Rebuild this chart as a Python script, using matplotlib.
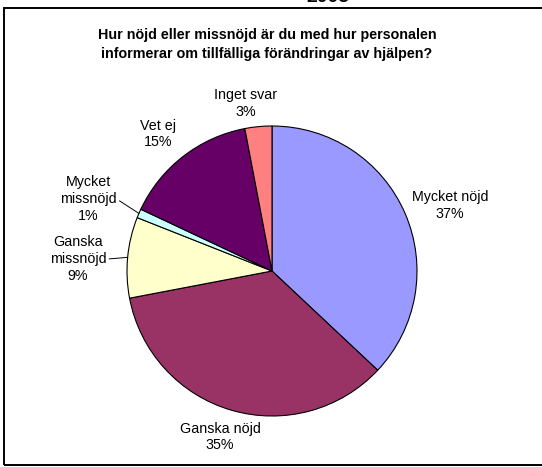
import numpy as np
import matplotlib
matplotlib.use('Agg')
from matplotlib import pyplot as plt
from matplotlib.patches import Rectangle

plt.rcParams['font.family'] = ['Liberation Sans', 'DejaVu Sans']

# Data
labels = ['Mycket nöjd', 'Ganska nöjd', 'Ganska\nmissnöjd', 'Mycket\nmissnöjd',
          'Vet ej', 'Inget svar']
percent = [37, 35, 9, 1, 15, 3]
colors = ['#9999FF', '#993366', '#FFFFCC', '#CCFFFF', '#660066', '#FF8080']
# label placement: distance out (pie radii) and clockwise nudge (degrees)
label_dist = [1.31, 1.20, 1.34, 1.36, 1.23, 1.17]
label_shift = [3.2, 1.2, -1.9, -2.0, -2.0, -3.6]
leader = [False, False, True, True, False, False]

title = ('Hur nöjd eller missnöjd är du med hur personalen\n'
         'informerar om tillfälliga förändringar av hjälpen?')


def main():
    W, H = 542, 467
    cx, cy, R = 272, 271, 145   # pie centre / radius in pixels

    fig = plt.figure(figsize=(W / 100, H / 100), dpi=100)
    ax = fig.add_axes([0, 0, 1, 1])

    wedges, _ = ax.pie(percent, colors=colors, startangle=90, counterclock=False,
                       wedgeprops=dict(edgecolor='k', linewidth=0.8))

    # pixel-matched limits so that one unit = R pixels in both directions
    ax.set_xlim(-cx / R, (W - cx) / R)
    ax.set_ylim(-(H - cy) / R, cy / R)
    ax.set_aspect('auto')
    ax.axis('off')

    for w, lab, p, d, sh, lead in zip(wedges, labels, percent, label_dist,
                                      label_shift, leader):
        mid = np.deg2rad((w.theta1 + w.theta2) / 2)
        ang = mid - np.deg2rad(sh)
        tx, ty = d * np.cos(ang), d * np.sin(ang)
        txt = '%s\n%d%%' % (lab, p)
        if lead:
            ax.annotate(txt, xy=(np.cos(mid), np.sin(mid)), xytext=(tx, ty),
                        ha='center', va='center', fontsize=10.3,
                        linespacing=1.25,
                        arrowprops=dict(arrowstyle='-', color='k', lw=0.7,
                                        relpos=(1, 0.5), shrinkA=0, shrinkB=0))
        else:
            ax.text(tx, ty, txt, ha='center', va='center', fontsize=10.3,
                    linespacing=1.25)

    fig.text(267 / W, 1 - 44.5 / H, title, ha='center', va='center',
             fontsize=10.3, fontweight='bold', linespacing=1.45)

    # year heading, mostly above the visible area
    fig.text(328 / W, 1 - 2.5 / H, '2005', ha='center', va='baseline',
             fontsize=14, fontweight='bold')

    # chart frame
    fig.patches.append(Rectangle((4 / W, 2 / H), 1.2, 457 / H,
                                 transform=fig.transFigure, fill=False,
                                 edgecolor='k', linewidth=1.4))

    plt.savefig('out.png', dpi=100)


main()
